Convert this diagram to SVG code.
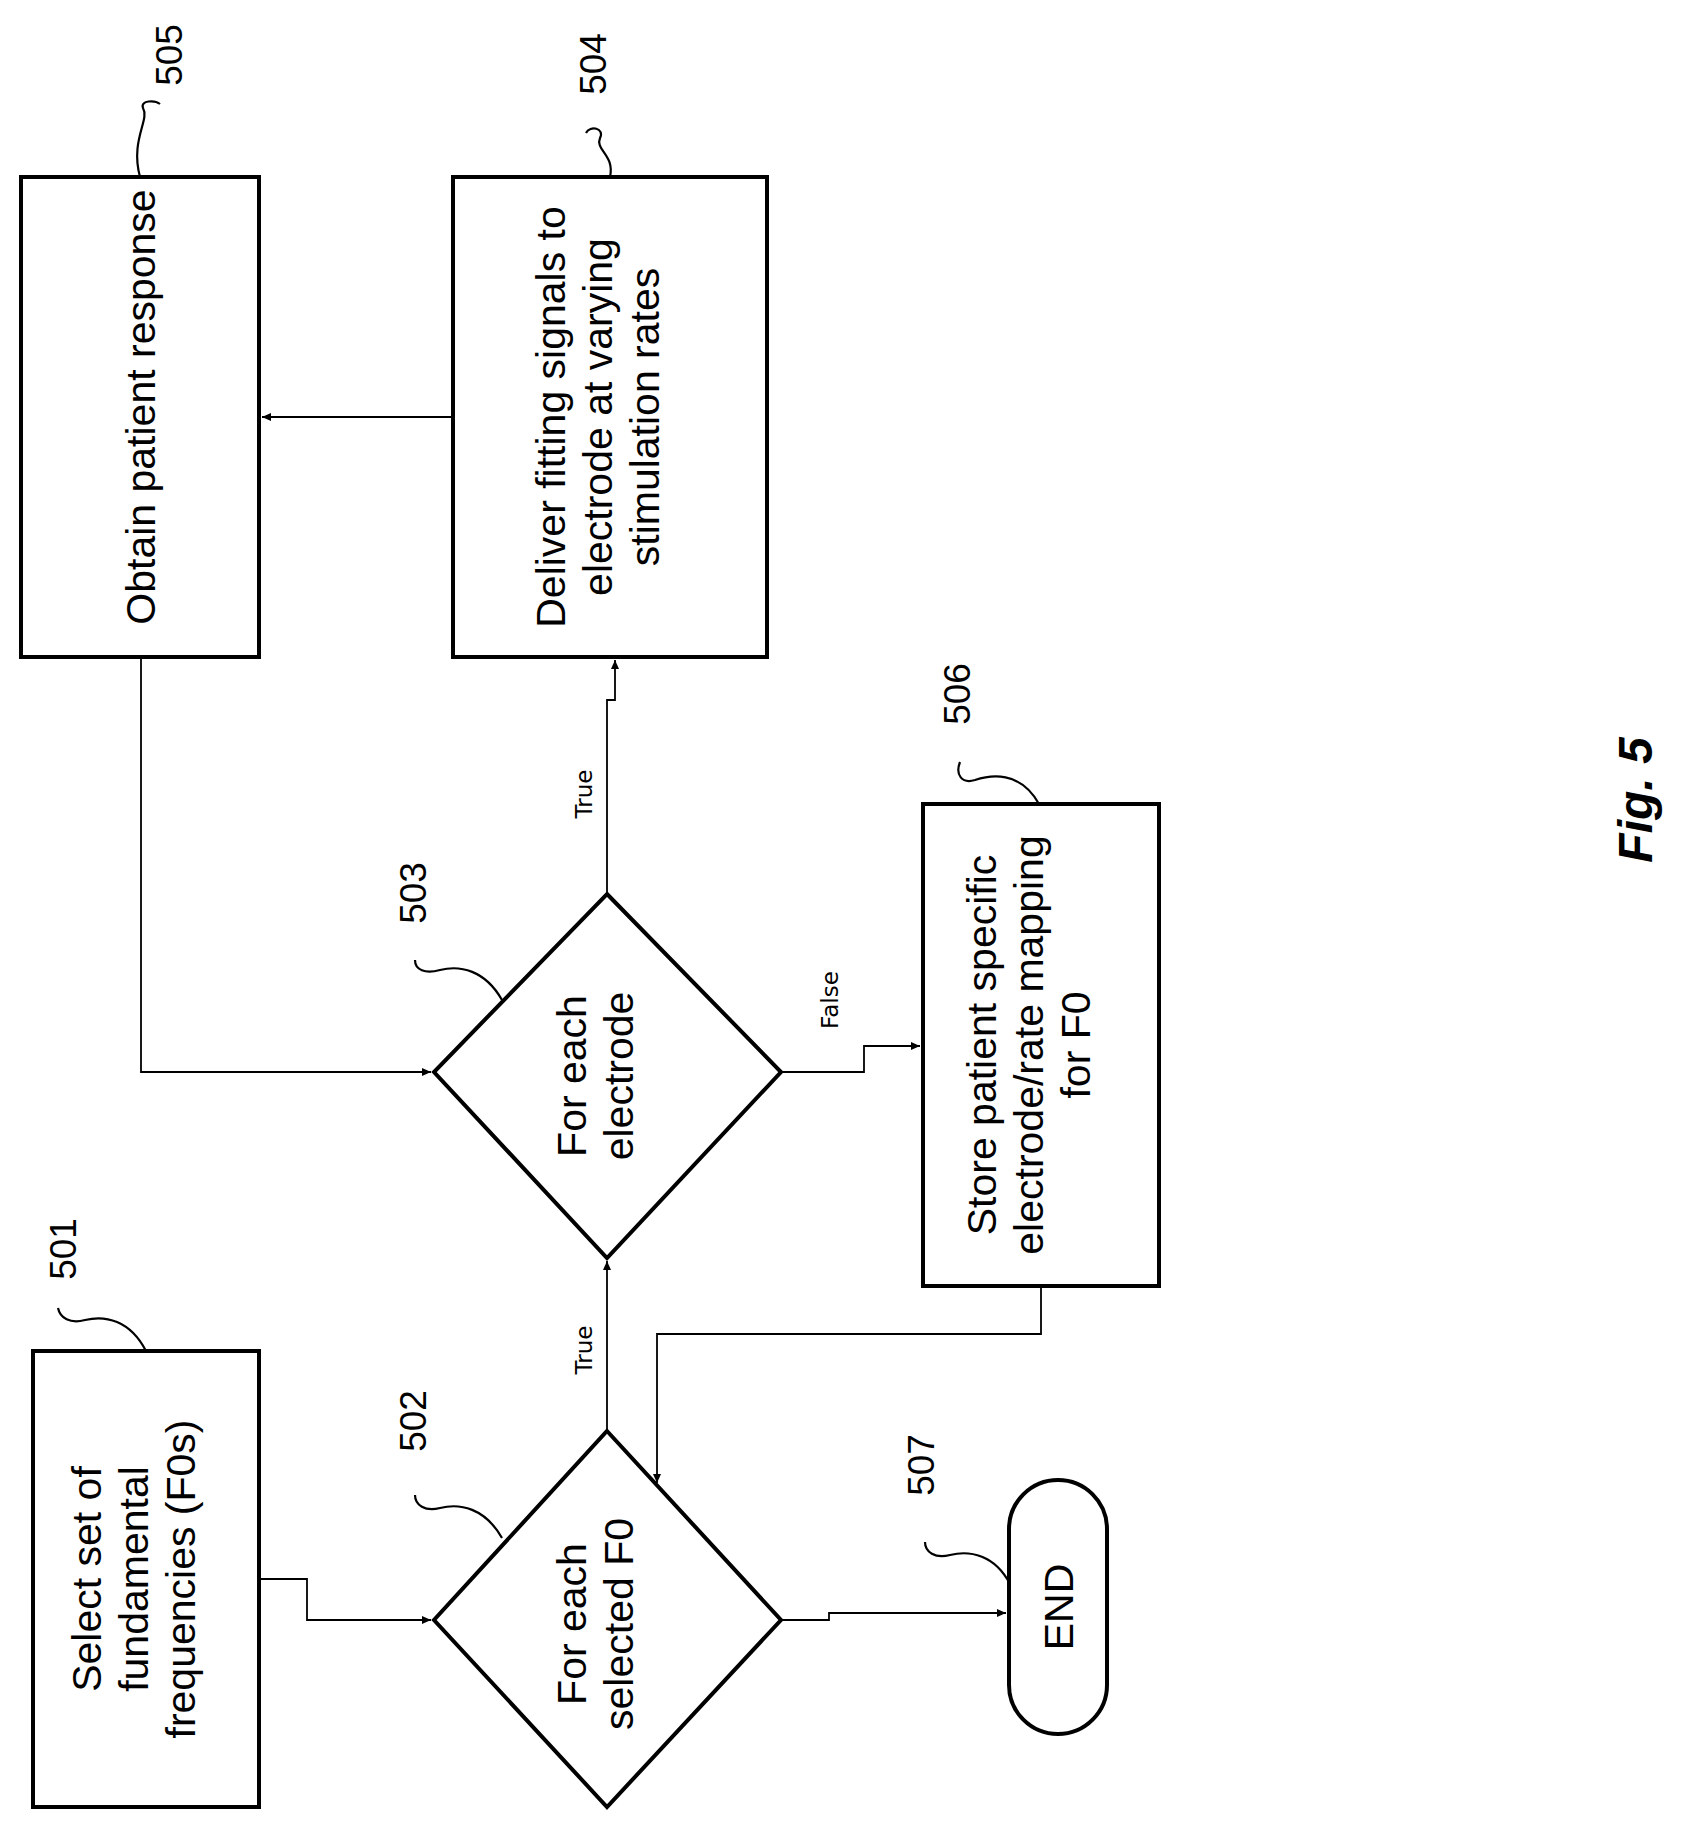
<svg xmlns="http://www.w3.org/2000/svg" width="1681" height="1825" viewBox="0 0 1681 1825">
<style>
.b{fill:#fff;stroke:#000;stroke-width:4}
.c{fill:none;stroke:#000;stroke-width:1.8}
.l{fill:none;stroke:#000;stroke-width:2.2}
.t{font-family:"Liberation Sans",Arial,sans-serif;font-size:41px;text-anchor:middle}
.n{font-family:"Liberation Sans",Arial,sans-serif;font-size:37px;text-anchor:middle}
.s{font-family:"DejaVu Sans",sans-serif;font-size:23px;text-anchor:middle}
</style>
<defs><marker id="a" markerWidth="10" markerHeight="10" refX="9" refY="5" orient="auto" markerUnits="userSpaceOnUse"><path d="M0,1 L9,5 L0,9 Z"/></marker></defs>
<g id="connectors">
<path class="c" d="M453,417 H262" marker-end="url(#a)"/>
<path class="c" d="M141,657 V1072 H431" marker-end="url(#a)"/>
<path class="c" d="M607,894 V700 H615 V660" marker-end="url(#a)"/>
<text class="s" transform="translate(592,794) rotate(-90)">True</text>
<path class="c" d="M781,1072 H864 V1046 H920" marker-end="url(#a)"/>
<text class="s" transform="translate(838,1000) rotate(-90)">False</text>
<path class="c" d="M607,1431 V1261" marker-end="url(#a)"/>
<text class="s" transform="translate(592,1350) rotate(-90)">True</text>
<path class="c" d="M1041,1286 V1334 H657 V1483" marker-end="url(#a)"/>
<path class="c" d="M259,1579 H307 V1620 H431" marker-end="url(#a)"/>
<path class="c" d="M781,1620 H829 V1613 H1006" marker-end="url(#a)"/>
</g>
<g id="n505"><rect class="b" x="21" y="177" width="238" height="480"/>
<text class="t" transform="translate(155,407) rotate(-90)">Obtain patient response</text>
<path class="l" d="M140,177 C130,140 150,120 143,108 C140,100 155,100 160,104"/>
<text class="n" transform="translate(182,55) rotate(-90)">505</text></g>
<g id="n504"><rect class="b" x="453" y="177" width="314" height="480"/>
<text class="t" transform="translate(612,417) rotate(-90)"><tspan x="0" y="-47">Deliver fitting signals to</tspan><tspan x="0" y="0">electrode at varying</tspan><tspan x="0" y="47">stimulation rates</tspan></text>
<path class="l" d="M610,177 C615,155 595,150 600,138 C605,128 590,125 586,133"/>
<text class="n" transform="translate(606,64) rotate(-90)">504</text></g>
<g id="n506"><rect class="b" x="923" y="804" width="236" height="482"/>
<text class="t" transform="translate(1043,1045) rotate(-90)"><tspan x="0" y="-47">Store patient specific</tspan><tspan x="0" y="0">electrode/rate mapping</tspan><tspan x="0" y="47">for F0</tspan></text>
<path class="l" d="M1039,804 C1020,770 990,775 975,780 C962,784 955,775 960,762"/>
<text class="n" transform="translate(970,694) rotate(-90)">506</text></g>
<g id="n503"><path class="b" d="M607,894 L781,1072 L607,1258 L434,1072 Z"/>
<text class="t" transform="translate(609,1076) rotate(-90)"><tspan x="0" y="-23">For each</tspan><tspan x="0" y="24">electrode</tspan></text>
<path class="l" d="M502,1000 C485,970 460,965 440,970 C425,974 415,970 415,960"/>
<text class="n" transform="translate(426,893) rotate(-90)">503</text></g>
<g id="n502"><path class="b" d="M607,1431 L781,1620 L607,1807 L434,1620 Z"/>
<text class="t" transform="translate(609,1624) rotate(-90)"><tspan x="0" y="-23">For each</tspan><tspan x="0" y="24">selected F0</tspan></text>
<path class="l" d="M502,1538 C485,1508 460,1503 440,1508 C425,1512 415,1505 415,1495"/>
<text class="n" transform="translate(426,1421) rotate(-90)">502</text></g>
<g id="n501"><rect class="b" x="33" y="1351" width="226" height="456"/>
<text class="t" transform="translate(148,1579) rotate(-90)"><tspan x="0" y="-47">Select set of</tspan><tspan x="0" y="0">fundamental</tspan><tspan x="0" y="47">frequencies (F0s)</tspan></text>
<path class="l" d="M146,1351 C130,1320 105,1315 85,1320 C70,1324 60,1318 58,1308"/>
<text class="n" transform="translate(76,1249) rotate(-90)">501</text></g>
<g id="n507"><rect class="b" x="1009" y="1480" width="98" height="254" rx="49"/>
<text class="t" transform="translate(1073,1607) rotate(-90)">END</text>
<path class="l" d="M1010,1584 C995,1555 970,1550 950,1555 C935,1559 925,1552 925,1542"/>
<text class="n" transform="translate(934,1465) rotate(-90)">507</text></g>
<text transform="translate(1652,800) rotate(-90)" style="font-family:'Liberation Sans',Arial,sans-serif;font-size:48px;font-weight:bold;font-style:italic;text-anchor:middle">Fig. 5</text>
</svg>
